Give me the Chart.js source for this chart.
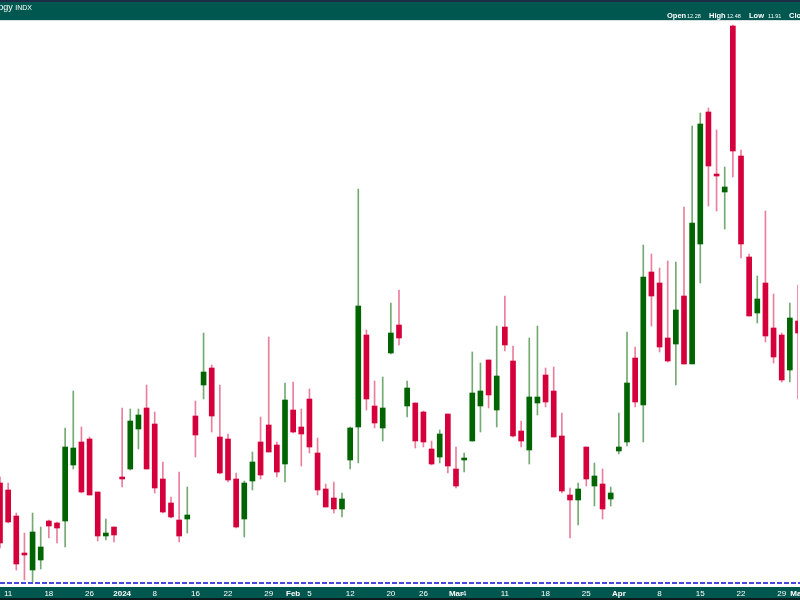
<!DOCTYPE html>
<html lang="en">
<head>
  <meta charset="UTF-8" />
  <title>Technology INDX</title>
  <script src="https://cdn.jsdelivr.net/npm/chart.js@4"></script>
  <style>
    html, body {
      margin: 0;
      padding: 0;
      background: #fff;
    }
    #wrap {
      position: relative;
      width: 800px;
      height: 600px;
      overflow: hidden;
      font-family: "Liberation Sans", Arial, sans-serif;
    }
    #topBand {
      position: absolute;
      left: 0; top: 0;
      width: 800px; height: 20px;
      background: #00574f;
      border-top: 2px solid #1c2c44;
      box-sizing: border-box;
    }
    #bottomBand {
      position: absolute;
      left: 0; top: 587px;
      width: 800px; height: 13px;
      background: #00574f;
      border-bottom: 2px solid #0b1b1b;
      box-sizing: border-box;
    }
    #title {
      position: absolute;
      right: 768px; top: 3px;
      color: #fff;
      font-size: 9px;
      line-height: 9px;
      white-space: nowrap;
    }
    #title small { font-size: 7px; }
    .hd {
      position: absolute;
      top: 12px;
      color: #fff;
      line-height: 7px;
      white-space: nowrap;
    }
    .hd.k { font-size: 7.5px; font-weight: bold; }
    .hd.v { font-size: 5.5px; top: 13px; }
    canvas { position: absolute; left: 0; top: 0; }
  </style>
</head>
<body>
<div id="wrap">
  <div id="topBand"></div>
  <div id="bottomBand"></div>
  <canvas id="candles" width="800" height="600"></canvas>
  <div id="title">Dow Jones US Technology <small>INDX</small></div>
  <span class="hd k" style="left:667px">Open</span>
  <span class="hd v" style="left:687px">12.28</span>
  <span class="hd k" style="left:709px">High</span>
  <span class="hd v" style="left:727px">12.48</span>
  <span class="hd k" style="left:749px">Low</span>
  <span class="hd v" style="left:768px">11.91</span>
  <span class="hd k" style="left:789px">Close</span>
</div>

<script>
  // trading days shown (Dec 8, 2023 -> May 1, 2024)
  const dates = [
    '2023-12-08',
    '2023-12-11', '2023-12-12', '2023-12-13', '2023-12-14', '2023-12-15',
    '2023-12-18', '2023-12-19', '2023-12-20', '2023-12-21', '2023-12-22',
    '2023-12-26', '2023-12-27', '2023-12-28', '2023-12-29',
    '2024-01-02', '2024-01-03', '2024-01-04', '2024-01-05',
    '2024-01-08', '2024-01-09', '2024-01-10', '2024-01-11', '2024-01-12',
    '2024-01-16', '2024-01-17', '2024-01-18', '2024-01-19',
    '2024-01-22', '2024-01-23', '2024-01-24', '2024-01-25', '2024-01-26',
    '2024-01-29', '2024-01-30', '2024-01-31', '2024-02-01', '2024-02-02',
    '2024-02-05', '2024-02-06', '2024-02-07', '2024-02-08', '2024-02-09',
    '2024-02-12', '2024-02-13', '2024-02-14', '2024-02-15', '2024-02-16',
    '2024-02-20', '2024-02-21', '2024-02-22', '2024-02-23',
    '2024-02-26', '2024-02-27', '2024-02-28', '2024-02-29', '2024-03-01',
    '2024-03-04', '2024-03-05', '2024-03-06', '2024-03-07', '2024-03-08',
    '2024-03-11', '2024-03-12', '2024-03-13', '2024-03-14', '2024-03-15',
    '2024-03-18', '2024-03-19', '2024-03-20', '2024-03-21', '2024-03-22',
    '2024-03-25', '2024-03-26', '2024-03-27', '2024-03-28',
    '2024-04-01', '2024-04-02', '2024-04-03', '2024-04-04', '2024-04-05',
    '2024-04-08', '2024-04-09', '2024-04-10', '2024-04-11', '2024-04-12',
    '2024-04-15', '2024-04-16', '2024-04-17', '2024-04-18', '2024-04-19',
    '2024-04-22', '2024-04-23', '2024-04-24', '2024-04-25', '2024-04-26',
    '2024-04-29', '2024-04-30', '2024-05-01'
  ];

  const opens = [
    11.49, 11.455, 11.325, 11.14, 11.055, 11.105, 11.30, 11.29, 11.30, 11.58,
    11.695, 11.71, 11.445, 11.225, 11.27, 11.52, 11.56, 11.76, 11.865, 11.785,
    11.51, 11.39, 11.305, 11.31, 11.825, 11.98, 12.065, 11.72, 11.71, 11.51,
    11.31, 11.50, 11.695, 11.78, 11.68, 11.585, 11.855, 11.77, 11.91, 11.64,
    11.46, 11.415, 11.36, 11.605, 11.77, 12.23, 11.875, 11.765, 12.14, 12.28,
    11.875, 11.89, 11.845, 11.66, 11.62, 11.835, 11.56, 11.605, 11.70, 11.875,
    12.105, 11.855, 12.27, 12.10, 11.75, 11.655, 11.89, 12.03, 11.95, 11.725,
    11.43, 11.405, 11.67, 11.475, 11.485, 11.41, 11.65, 11.695, 12.115, 11.88,
    12.545, 12.49, 12.215, 12.185, 12.425, 12.085, 12.685, 13.345, 13.035, 12.945,
    13.775, 13.125, 12.62, 12.34, 12.49, 12.265, 12.23, 12.055, 12.30
  ];
  const highs = [
    11.52, 11.49, 11.34, 11.24, 11.34, 11.27, 11.305, 11.295, 11.765, 11.95,
    11.77, 11.72, 11.445, 11.31, 11.27, 11.865, 11.86, 11.86, 11.98, 11.845,
    11.595, 11.42, 11.545, 11.47, 11.90, 12.24, 12.08, 11.98, 11.735, 11.54,
    11.50, 11.645, 11.82, 12.22, 11.695, 11.99, 11.995, 11.86, 11.96, 11.715,
    11.485, 11.495, 11.44, 11.77, 12.96, 12.255, 12.00, 12.02, 12.39, 12.455,
    12.00, 11.89, 11.85, 11.70, 11.755, 11.835, 11.67, 11.64, 12.145, 12.09,
    12.105, 12.275, 12.425, 12.175, 11.80, 12.215, 12.275, 12.065, 12.07, 11.84,
    11.465, 11.49, 11.67, 11.59, 11.56, 11.47, 11.84, 12.245, 12.17, 12.68,
    12.635, 12.565, 12.60, 12.595, 12.87, 13.275, 13.34, 13.365, 13.255, 13.07,
    13.78, 13.155, 12.635, 12.525, 12.85, 12.435, 12.24, 12.39, 12.48
  ];
  const lows = [
    11.165, 11.29, 11.055, 11.005, 10.995, 11.06, 11.215, 11.19, 11.17, 11.56,
    11.44, 11.43, 11.20, 11.205, 11.195, 11.47, 11.555, 11.66, 11.56, 11.44,
    11.34, 11.315, 11.195, 11.24, 11.62, 11.91, 11.745, 11.535, 11.495, 11.265,
    11.22, 11.455, 11.51, 11.645, 11.52, 11.495, 11.74, 11.575, 11.64, 11.43,
    11.37, 11.34, 11.32, 11.56, 11.59, 11.855, 11.765, 11.70, 12.135, 12.18,
    11.82, 11.665, 11.67, 11.58, 11.59, 11.54, 11.465, 11.545, 11.70, 11.745,
    11.865, 11.77, 12.15, 11.72, 11.67, 11.585, 11.83, 11.87, 11.72, 11.44,
    11.215, 11.28, 11.475, 11.375, 11.31, 11.375, 11.635, 11.675, 11.87, 11.695,
    12.275, 12.145, 12.095, 11.98, 12.085, 12.085, 12.49, 12.875, 12.85, 12.76,
    13.02, 12.615, 12.325, 12.29, 12.195, 12.09, 11.995, 11.995, 11.91
  ];
  const closes = [
    11.19, 11.295, 11.085, 11.13, 11.245, 11.17, 11.275, 11.265, 11.67, 11.665,
    11.445, 11.43, 11.225, 11.24, 11.23, 11.51, 11.80, 11.83, 11.56, 11.465,
    11.345, 11.32, 11.225, 11.33, 11.73, 12.045, 11.825, 11.54, 11.505, 11.27,
    11.49, 11.595, 11.53, 11.645, 11.545, 11.905, 11.745, 11.735, 11.67, 11.455,
    11.37, 11.36, 11.41, 11.765, 12.375, 11.91, 11.79, 11.865, 12.24, 12.215,
    11.965, 11.70, 11.695, 11.585, 11.735, 11.575, 11.475, 11.615, 11.94, 11.95,
    11.93, 12.025, 12.18, 11.725, 11.70, 11.92, 11.92, 11.895, 11.72, 11.45,
    11.405, 11.46, 11.51, 11.525, 11.36, 11.44, 11.67, 11.99, 11.895, 12.52,
    12.425, 12.17, 12.10, 12.355, 12.085, 12.79, 13.285, 13.075, 13.025, 12.97,
    13.15, 12.685, 12.325, 12.41, 12.225, 12.12, 12.005, 12.315, 12.24
  ];

  // bottom axis labels
  const tickDates = ['2023-12-11', '2023-12-18', '2023-12-26', '2024-01-02', '2024-01-08', '2024-01-16',
    '2024-01-22', '2024-01-29', '2024-02-01', '2024-02-05', '2024-02-12', '2024-02-20', '2024-02-26',
    '2024-03-01', '2024-03-04', '2024-03-11', '2024-03-18', '2024-03-25', '2024-04-01', '2024-04-08',
    '2024-04-15', '2024-04-22', '2024-04-29', '2024-05-01'];
  const tickText = ['11', '18', '26', '2024', '8', '16', '22', '29', 'Feb', '5', '12', '20', '26',
    'Mar', '4', '11', '18', '25', 'Apr', '8', '15', '22', '29', 'May'];
  const boldTicks = ['2024', 'Feb', 'Mar', 'Apr', 'May'];

  const supportLevel = 10.99;
  const priceMin = 10.975;
  const priceMax = 13.805;

  const upColor = '#006400';
  const downColor = '#d5003b';
  const upWick = 'rgba(0, 100, 0, 0.55)';
  const downWick = 'rgba(213, 0, 59, 0.5)';

  const isUp = closes.map((c, i) => c >= opens[i]);
  const labelFor = i => {
    const k = tickDates.indexOf(dates[i]);
    return k < 0 ? '' : tickText[k];
  };

  // dashed level line + thin top frame
  const levelLine = {
    id: 'levelLine',
    afterDatasetsDraw(chart) {
      const c = chart.ctx;
      const area = chart.chartArea;
      const y = chart.scales.y.getPixelForValue(supportLevel);
      c.save();
      c.strokeStyle = '#4848e0';
      c.lineWidth = 2;
      c.setLineDash([5, 2]);
      c.beginPath();
      c.moveTo(0, y);
      c.lineTo(800, y);
      c.stroke();
      c.setLineDash([]);
      c.strokeStyle = '#d8e0e0';
      c.lineWidth = 1;
      c.beginPath();
      c.moveTo(0, area.top + 0.5);
      c.lineTo(800, area.top + 0.5);
      c.stroke();
      c.restore();
    }
  };

  const ctx = document.getElementById('candles').getContext('2d');
  new Chart(ctx, {
    type: 'bar',
    data: {
      labels: dates,
      datasets: [
        {
          label: 'Wick',
          data: highs.map((h, i) => [lows[i], h]),
          backgroundColor: isUp.map(u => u ? upWick : downWick),
          barThickness: 1,
          grouped: false,
          order: 2
        },
        {
          label: 'Body',
          data: opens.map((o, i) => [o, closes[i]]),
          backgroundColor: isUp.map(u => u ? upColor : downColor),
          barThickness: 5,
          grouped: false,
          order: 1
        }
      ]
    },
    options: {
      responsive: false,
      animation: false,
      layout: {
        autoPadding: false,
        padding: { top: 20, left: 0, right: 2, bottom: 0 }
      },
      plugins: {
        legend: { display: false },
        tooltip: { enabled: false }
      },
      scales: {
        x: {
          type: 'category',
          offset: false,
          grid: { display: false, drawTicks: false },
          border: { display: false },
          ticks: {
            autoSkip: false,
            maxRotation: 0,
            minRotation: 0,
            padding: 3,
            color: '#ffffff',
            font: c => ({
              family: 'Liberation Sans',
              size: 8,
              weight: boldTicks.includes(labelFor(c.index)) ? 'bold' : 'normal'
            }),
            callback: (v, i) => labelFor(i)
          },
          afterFit: s => {
            s.height = 14;
            s.paddingLeft = 0;
            s.paddingRight = 0;
          }
        },
        y: {
          display: false,
          min: priceMin,
          max: priceMax
        }
      }
    },
    plugins: [levelLine]
  });
</script>
</body>
</html>
